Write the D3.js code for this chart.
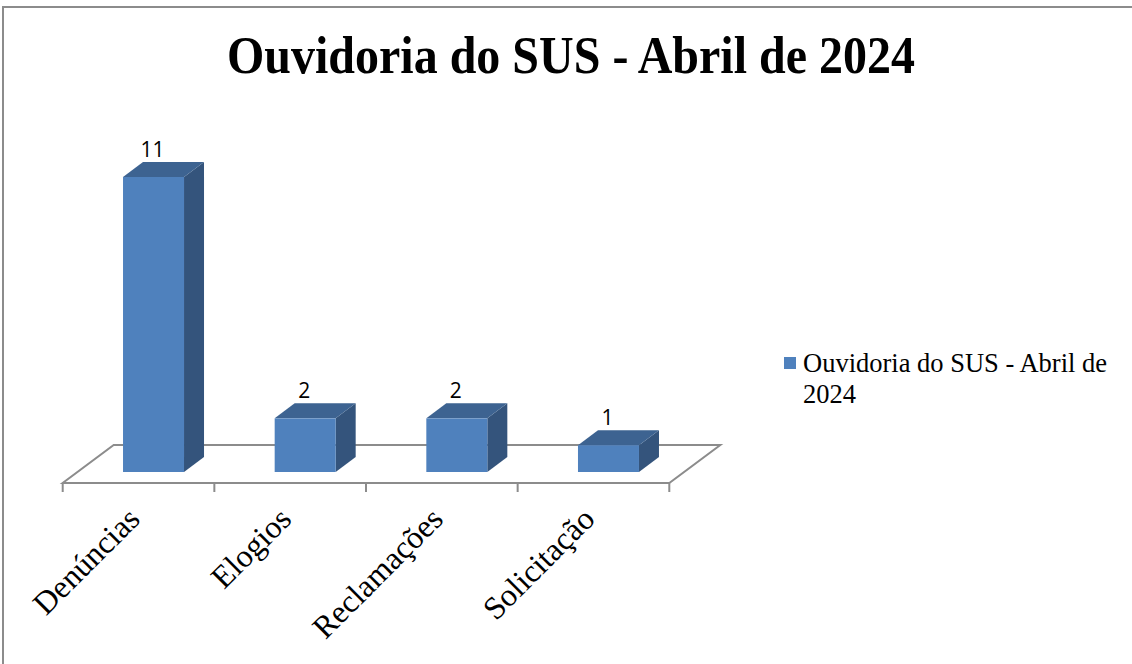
<!DOCTYPE html>
<html>
<head>
<meta charset="utf-8">
<script src="https://cdn.jsdelivr.net/npm/d3@7"></script>
<style>
html,body{margin:0;padding:0;background:#fff;}
svg{display:block;}
</style>
</head>
<body>
<svg id="chart" width="1132" height="664"></svg>
<script>
const categories = ["Denúncias", "Elogios", "Reclamações", "Solicitação"];
const values = [11, 2, 2, 1];
const seriesName = "Ouvidoria do SUS - Abril de 2024";
const titleText = "Ouvidoria do SUS - Abril de 2024";
const legendLines = ["Ouvidoria do SUS - Abril de", "2024"];

const serif = "'Liberation Serif', 'Times New Roman', serif";
const svg = d3.select("#chart");

// outer border
svg.append("rect").attr("x", 3).attr("y", 7).attr("width", 1140).attr("height", 680)
  .attr("fill", "none").attr("stroke", "#8c8c8c").attr("stroke-width", 2);

// title
svg.append("text").attr("transform", "translate(571,73) scale(1,1.12)").attr("text-anchor", "middle")
  .attr("font-family", serif).attr("font-weight", "bold").attr("font-size", 48)
  .text(titleText);

// 3D geometry
const depthFloor = [51, -38];
const barShift = [15, -11];
const barDepth = [20, -15];
const floorY = 483;

const x = d3.scaleBand().domain(categories).range([62.7, 669.3]).paddingInner(0).paddingOuter(0);
const y = d3.scaleLinear().domain([0, 11]).range([floorY - 11, 177]);
const barW = 61;

// floor
const x0 = x.range()[0], x1 = x.range()[1];
const floorPts = [[x0, floorY], [x1, floorY], [x1 + depthFloor[0], floorY + depthFloor[1]], [x0 + depthFloor[0], floorY + depthFloor[1]]];
svg.append("path").attr("d", d3.line()(floorPts) + "Z").attr("fill", "none")
  .attr("stroke", "#8c8c8c").attr("stroke-width", 2).attr("stroke-linejoin", "miter");

// ticks
const tickPos = categories.map(c => x(c)).concat([x1]);
svg.selectAll(".tick").data(tickPos).enter().append("line")
  .attr("x1", d => d).attr("x2", d => d).attr("y1", floorY).attr("y2", floorY + 9)
  .attr("stroke", "#8c8c8c").attr("stroke-width", 2);

// bars
const data = categories.map((c, i) => ({c, v: values[i]}));
const g = svg.append("g");
data.forEach(d => {
  const cx = x(d.c) + x.bandwidth() / 2 + barShift[0];
  const left = cx - barW / 2, right = cx + barW / 2;
  const bottom = y(0), top = y(d.v);
  const dx = barDepth[0], dy = barDepth[1];
  g.append("path").attr("d", d3.line()([[right, bottom], [right + dx, bottom + dy], [right + dx, top + dy], [right, top]]) + "Z")
    .attr("fill", "#34547c");
  g.append("path").attr("d", d3.line()([[left, top], [left + dx, top + dy], [right + dx, top + dy], [right, top]]) + "Z")
    .attr("fill", "#3d6391");
  g.append("rect").attr("x", left).attr("y", top).attr("width", barW).attr("height", bottom - top)
    .attr("fill", "#4f81bd");
  g.append("text").attr("x", cx - 1).attr("y", top - 20).attr("text-anchor", "middle")
    .attr("font-family", "'Open Sans', 'Liberation Sans', sans-serif").attr("font-size", 21).attr("fill", "#000")
    .text(d.v);
});

// category labels rotated
svg.selectAll(".cat").data(categories).enter().append("text")
  .attr("transform", d => `translate(${x(d) + x.bandwidth() / 2 + 3},${floorY + 38}) rotate(-45)`)
  .attr("text-anchor", "end")
  .attr("font-family", serif).attr("font-size", 32)
  .text(d => d);

// legend
svg.append("rect").attr("x", 784).attr("y", 357).attr("width", 12).attr("height", 12).attr("fill", "#4f81bd");
svg.append("text").attr("font-family", serif).attr("font-size", 26.5)
  .selectAll("tspan").data(legendLines).enter().append("tspan")
  .attr("x", 803).attr("y", (d, i) => 372 + i * 31).text(d => d);
</script>
</body>
</html>
